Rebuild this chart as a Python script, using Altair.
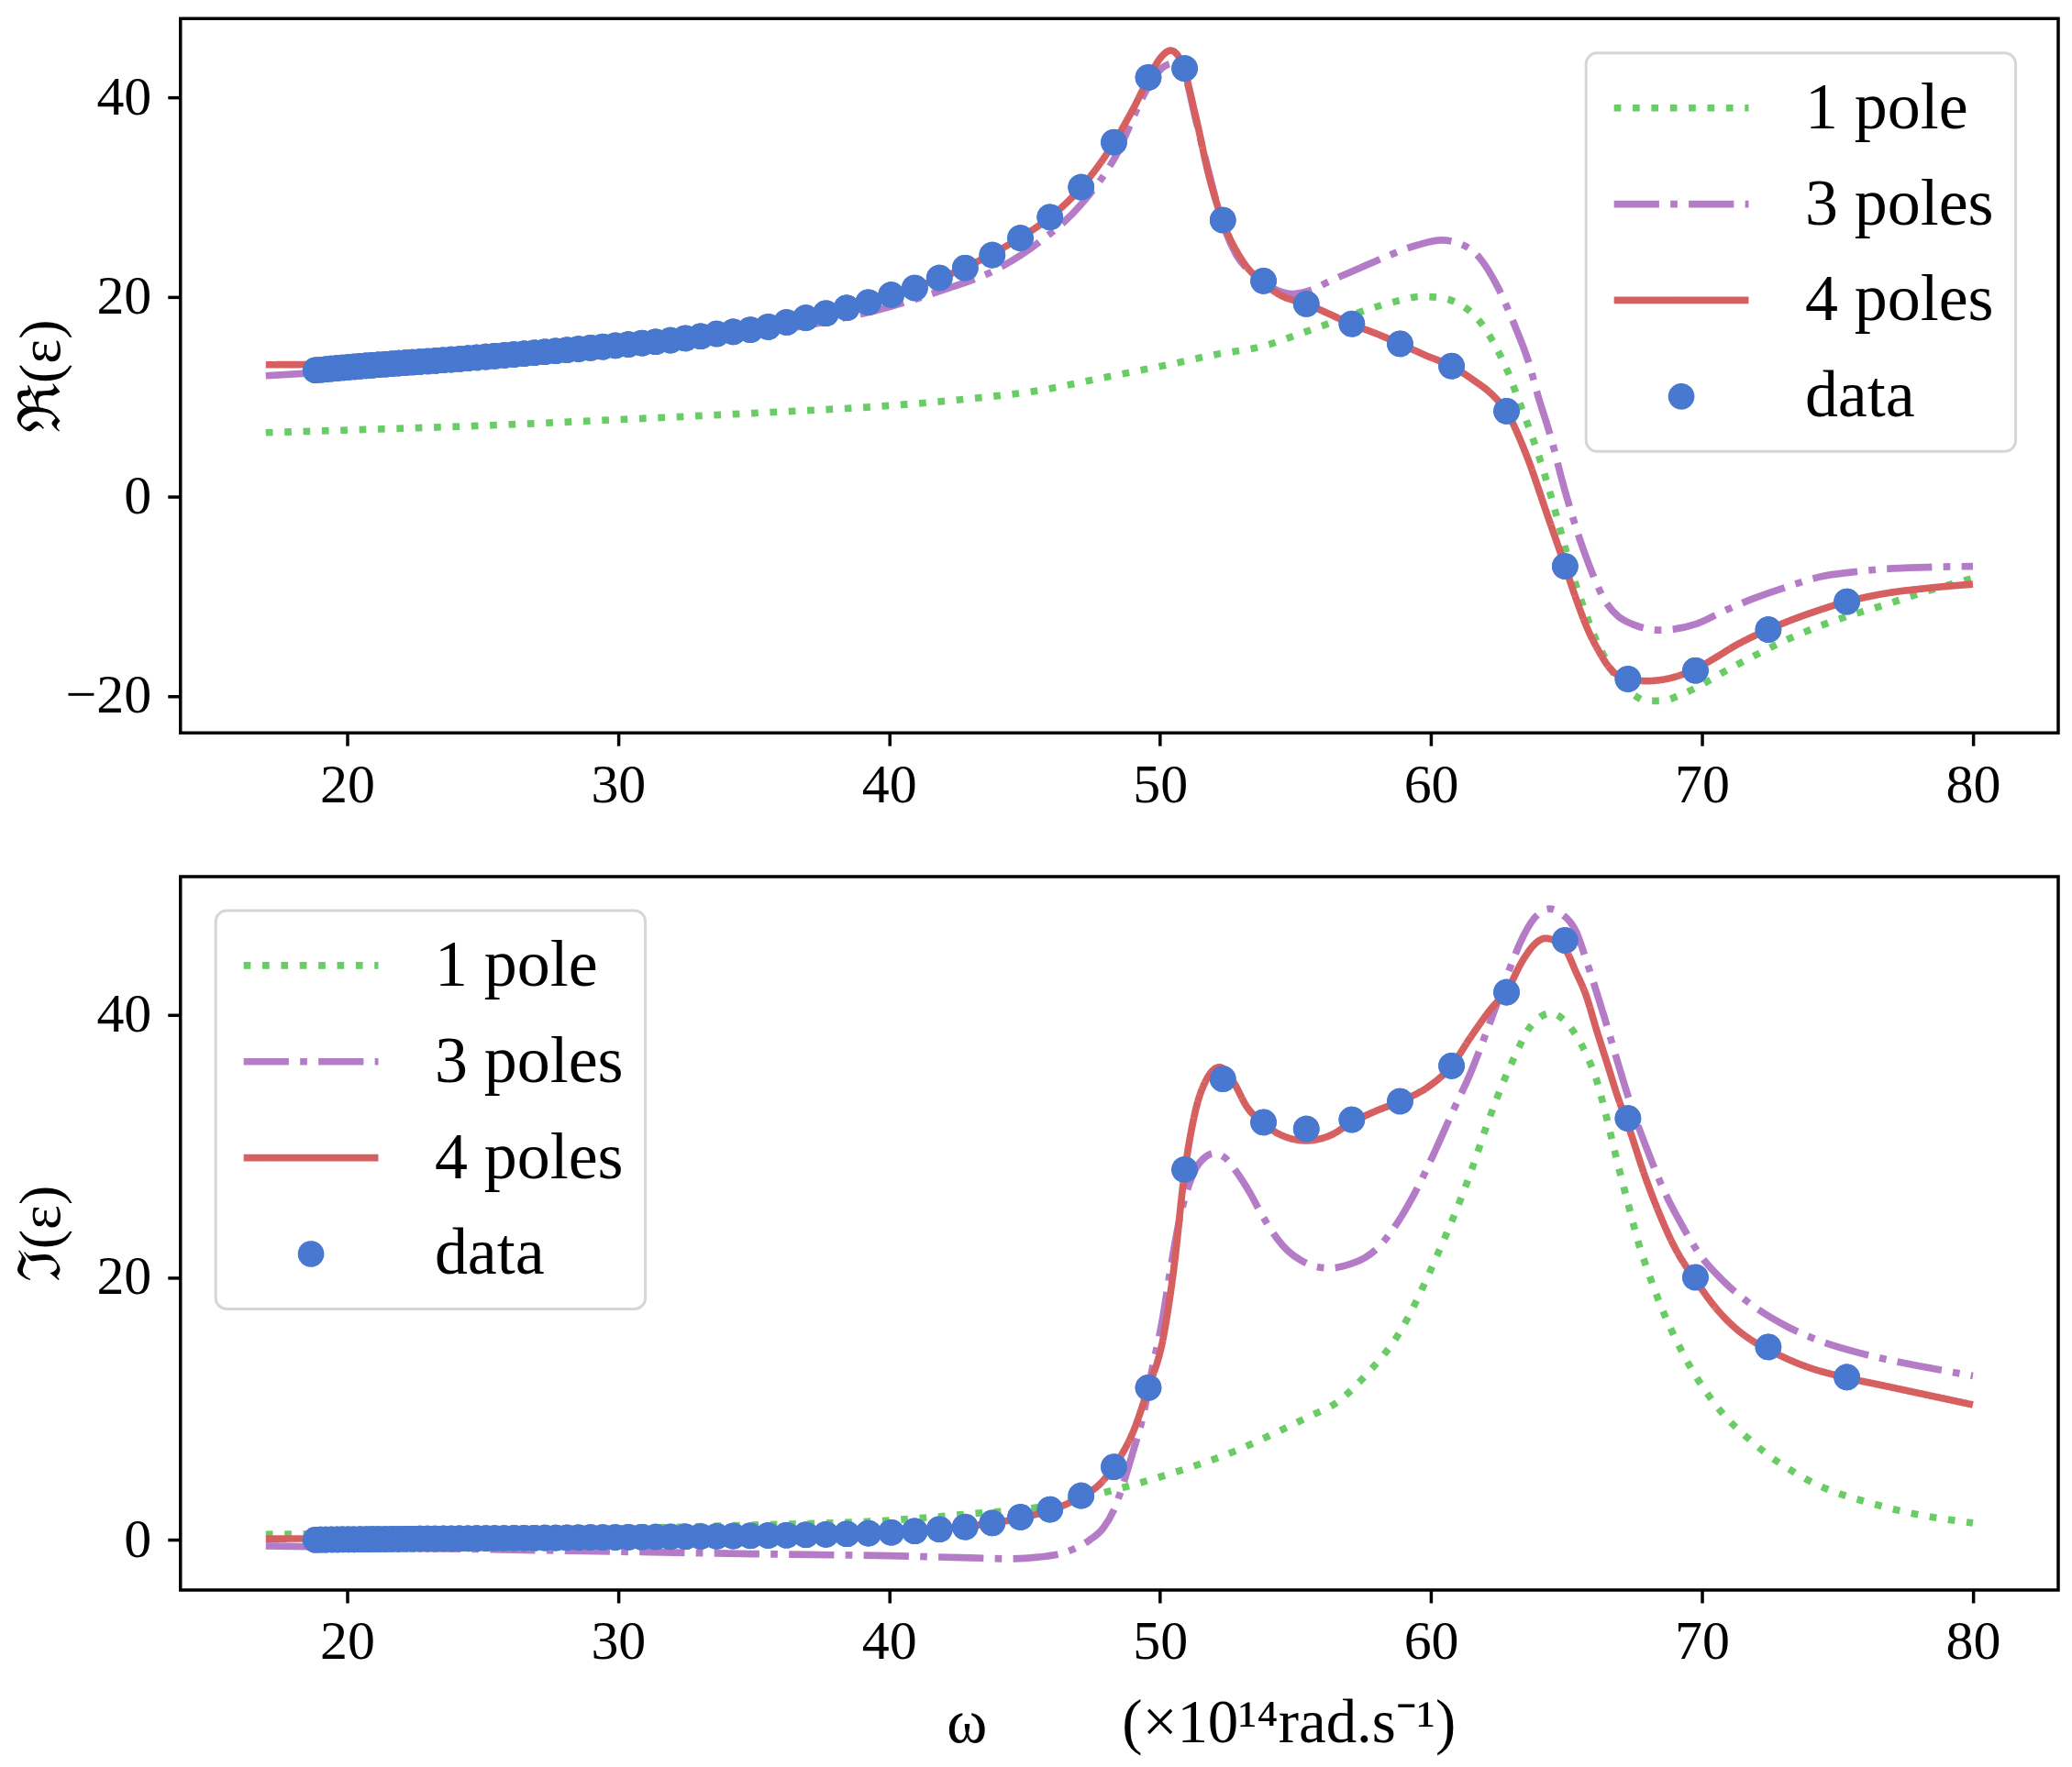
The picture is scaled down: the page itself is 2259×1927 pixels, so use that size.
import altair as alt
import pandas as pd

# ---------------- data ----------------
series_names = ["1 pole", "3 poles", "4 poles", "data"]
series_colors = ["#6ACC65", "#B47CC7", "#D65F5F", "#4878CF"]

omega_data = [18.84, 19.03, 19.22, 19.42, 19.62, 19.83, 20.04, 20.25, 20.47, 20.70, 20.93,
              21.16, 21.41, 21.65, 21.90, 22.16, 22.42, 22.69, 22.97, 23.25,
              23.55, 23.84, 24.15, 24.46, 24.78, 25.12, 25.45, 25.80, 26.16, 26.53,
              26.91, 27.30, 27.70, 28.11, 28.54, 28.98, 29.43, 29.90, 30.38, 30.88,
              31.39, 31.93, 32.48, 33.05, 33.64, 34.25, 34.88, 35.54, 36.22, 36.93,
              37.67, 38.44, 39.24, 40.08, 40.95, 41.86, 42.81, 43.81, 44.85, 45.94,
              47.09, 48.30, 49.57, 50.91, 52.32, 53.82, 55.40, 57.08, 58.86, 60.76,
              62.79, 64.95, 67.27, 69.76, 72.45, 75.35]
re_data = [12.65, 12.7, 12.75, 12.8, 12.85, 12.9, 12.95, 13.0, 13.05, 13.1, 13.15,
           13.2, 13.25, 13.3, 13.35, 13.4, 13.45, 13.5, 13.55, 13.6,
           13.66, 13.72, 13.78, 13.85, 13.92, 14.0, 14.07, 14.15, 14.23, 14.31,
           14.4, 14.49, 14.58, 14.68, 14.78, 14.89, 15.0, 15.12, 15.24, 15.37,
           15.5, 15.65, 15.85, 16.05, 16.3, 16.5, 16.7, 17.0, 17.45, 17.9,
           18.35, 18.9, 19.45, 20.2, 20.9, 21.9, 22.9, 24.2, 25.9, 28.0,
           31.0, 35.5, 42.0, 42.9, 27.7, 21.6, 19.3, 17.3, 15.3, 13.07,
           8.55, -7.0, -18.3, -17.45, -13.35, -10.55]
im_data = [0.02, 0.03, 0.03, 0.04, 0.04, 0.05, 0.05, 0.05, 0.06, 0.06, 0.07,
           0.07, 0.07, 0.08, 0.08, 0.09, 0.09, 0.1, 0.1, 0.1,
           0.11, 0.11, 0.12, 0.12, 0.13, 0.13, 0.14, 0.14, 0.15, 0.15,
           0.16, 0.17, 0.17, 0.18, 0.19, 0.2, 0.2, 0.21, 0.22, 0.23,
           0.24, 0.25, 0.26, 0.28, 0.29, 0.31, 0.33, 0.35, 0.37, 0.4,
           0.43, 0.47, 0.52, 0.58, 0.68, 0.82, 1.0, 1.3, 1.75, 2.33,
           3.38, 5.57, 11.6, 28.2, 35.1, 31.8, 31.3, 32.0, 33.4, 36.1,
           41.7, 45.65, 32.1, 20.0, 14.7, 12.4]

# real part, 1 pole
re1_x = [17, 20, 25, 30, 35, 40, 43, 45.5, 47.9, 50.3, 52.0, 53.93, 55.05, 56.4, 57.65,
         58.32, 59.0, 59.62, 60.3, 60.94, 61.5, 61.93, 62.27, 62.6, 62.9, 63.2, 63.6, 64.0,
         64.4, 64.84, 65.2, 65.62, 66.0, 66.39, 66.8, 67.17, 67.6, 67.95, 68.5, 69.2, 69.77,
         70.8, 71.84, 73.1, 74.44, 75.5, 76.6, 78.3, 80]
re1_y = [6.4, 6.65, 7.1, 7.7, 8.35, 9.1, 9.8, 10.6, 11.9, 13.2, 14.2, 15.15, 16.2, 17.5, 18.73,
         19.28, 19.74, 20.04, 19.95, 19.43, 18.42, 17.08, 15.6, 13.9, 12.1, 9.9, 7.0, 3.9,
         0.3, -4.0, -7.6, -11.0, -13.8, -16.0, -18.0, -19.2, -20.1, -20.5, -20.5, -19.9, -19.2,
         -17.6, -16.1, -14.4, -12.9, -11.9, -11.0, -9.5, -8.2]
# real part, 3 poles
re3_x = [17, 20, 23, 26, 29, 32, 35, 38, 40, 42, 44, 45.5, 47.1, 48.3, 49.6, 50.1, 50.5, 50.9,
         51.3, 51.8, 52.3, 52.8, 53.3, 53.8, 54.3, 54.9, 55.6, 56.2, 57.3, 58.4, 59.5, 60.4,
         61.1, 61.8, 62.5, 63.05, 63.6, 63.96, 64.45, 64.84, 65.2, 65.62, 66.0, 66.39, 66.9,
         67.43, 68.47, 69.77, 70.8, 71.84, 73.1, 74.44, 75.5, 76.6, 78.3, 80]
re3_y = [12.1, 12.6, 13.2, 13.8, 14.5, 15.3, 16.3, 17.7, 19.0, 20.7, 22.8, 25.4, 29.3, 33.8,
         41.2, 43.0, 43.4, 42.3, 38.0, 32.5, 27.5, 24.3, 22.6, 21.5, 20.7, 20.3, 20.7, 21.5,
         22.8, 24.1, 25.2, 25.7, 25.3, 23.9, 20.8, 17.4, 13.5, 10.0, 5.7, 1.6, -1.8, -5.3,
         -8.0, -10.3, -12.0, -12.8, -13.4, -12.8, -11.5, -10.3, -9.1, -8.0, -7.6, -7.3, -7.1, -7.0]
# real part, 4 poles
re4_x = [17, 19, 21, 23, 25, 27, 29, 31, 33, 35, 37, 39, 40, 41, 42, 43, 44, 45, 46, 47,
         48, 49, 49.6, 50.0, 50.4, 50.8, 51.3, 51.8, 52.3, 53.0, 53.8, 54.5, 55.4, 56.2, 57.08,
         58.0, 58.86, 59.8, 60.76, 61.6, 62.3, 62.79, 63.5, 64.3, 64.95, 65.36, 65.8, 66.13,
         66.9, 67.95, 68.99, 69.76, 70.54, 71.2, 71.84, 72.45, 73.1, 73.79, 75.35, 76.6,
         78.3, 80]
re4_y = [13.2, 13.25, 13.45, 13.75, 14.05, 14.5, 14.95, 15.5, 16.15, 16.95, 17.95, 19.3, 20.1,
         21.0, 22.0, 23.2, 24.6, 26.2, 28.1, 30.7, 34.2, 38.8, 42.0, 43.9, 44.7, 43.5, 38.3,
         32.2, 27.7, 23.8, 21.4, 20.1, 19.3, 18.35, 17.25, 16.3, 15.3, 14.15, 13.05, 11.6,
         10.1, 8.5, 4.3, -1.9, -7.0, -10.3, -13.4, -15.2, -17.9, -18.5, -18.1, -17.3, -16.1,
         -15.0, -14.1, -13.35, -12.6, -11.9, -10.55, -9.8, -9.2, -8.8]

# imaginary part, 1 pole
im1_x = [17, 20, 25, 30, 35, 40, 43, 45.5, 47.9, 50.3, 52.8, 54.5, 55.5, 56.54, 57.57, 58.87,
         60.17, 61.47, 62.1, 62.76, 63.2, 63.54, 63.9, 64.42, 64.9, 65.36, 65.75, 66.13, 66.5,
         66.9, 67.3, 67.69, 68.0, 68.47, 69.25, 70.54, 71.84, 73.79, 76.6, 80]
im1_y = [0.44, 0.5, 0.7, 0.88, 1.15, 1.5, 2.0, 2.5, 3.6, 5.0, 6.8, 8.4, 9.4, 10.5, 12.5, 15.9,
         21.4, 28.0, 31.8, 35.3, 37.3, 38.7, 39.6, 40.1, 39.6, 38.4, 36.9, 34.9, 32.0,
         28.6, 25.4, 22.4, 20.5, 17.9, 14.4, 10.2, 7.5, 4.7, 2.6, 1.3]
# imaginary part, 3 poles
im3_x = [17, 20, 25, 30, 35, 40, 43, 44.5, 45.5, 46.3, 46.9, 47.4, 47.9, 48.3, 48.6, 49.0,
         49.37, 49.7, 50.1, 50.4, 50.7, 51.0, 51.3, 51.7, 52.0, 52.4, 52.8, 53.3, 53.75, 54.2,
         54.73, 55.2, 55.7, 56.3, 57.0, 57.57, 58.2, 58.87, 59.5, 60.17, 60.8, 61.47, 62.0,
         62.5, 63.0, 63.3, 63.8, 64.38, 64.8, 65.36, 65.8, 66.4, 66.9, 67.43, 68.0, 68.6,
         69.2, 69.9, 70.8, 71.84, 73.1, 74.44, 75.9, 78.4, 80]
im3_y = [-0.44, -0.55, -0.7, -0.88, -1.05, -1.2, -1.35, -1.42, -1.3, -1.05, -0.6, 0.0, 0.9,
         2.3, 4.0, 6.7, 9.4, 12.9, 16.9, 20.8, 24.2, 26.6, 28.2, 29.2, 29.45, 29.1, 28.1,
         26.5, 24.8, 23.3, 22.0, 21.3, 20.85, 20.7, 21.0, 21.5, 22.6, 24.5, 26.8, 29.7, 32.6,
         35.6, 38.4, 41.2, 44.0, 45.5, 47.3, 48.05, 47.7, 46.3, 43.7, 39.8, 36.3, 32.8, 29.6,
         26.6, 24.2, 21.8, 19.7, 17.9, 16.3, 15.1, 14.2, 13.1, 12.5]
# imaginary part, 4 poles
im4_x = [17, 20, 25, 30, 35, 38, 40, 42, 44, 45, 46, 47, 47.8, 48.4, 49.0, 49.57, 50.1, 50.5,
         50.91, 51.3, 51.7, 52.2, 52.7, 53.2, 53.82, 54.5, 55.4, 56.28, 57.08, 57.9, 58.86,
         59.9, 60.76, 61.47, 62.2, 62.79, 63.41, 63.8, 64.22, 64.6, 64.95, 65.36, 65.7, 66.13,
         66.5, 66.9, 67.27, 67.95, 68.5, 68.99, 69.76, 70.54, 71.2, 71.84, 72.45, 73.79,
         75.35, 76.6, 78.3, 80]
im4_y = [0.1, 0.12, 0.18, 0.27, 0.4, 0.52, 0.65, 0.9, 1.35, 1.75, 2.3, 3.2, 4.3, 5.9, 8.2,
         11.6, 15.2, 20.5, 28.0, 32.6, 35.0, 36.0, 34.9, 33.0, 31.7, 30.8, 30.4, 30.8, 31.8,
         32.6, 33.4, 34.5, 36.1, 38.3, 40.4, 41.8, 44.2, 45.3, 45.8, 45.6, 45.0, 43.2, 41.6,
         38.7, 36.3, 33.7, 31.6, 27.4, 24.5, 22.3, 19.8, 17.6, 16.2, 15.2, 14.5, 13.25,
         12.35, 11.8, 11.05, 10.3]

x_ticks = [20, 30, 40, 50, 60, 70, 80]
re_ticks = [-20, 0, 20, 40]
im_ticks = [0, 20, 40]

# ---------------- styling ----------------
LINE_W = 7.7
dash_range = [[7.7, 12.7], [49.3, 12.3, 7.7, 12.3], [1, 0], [1, 0]]
shape_range = ["M-7,0H7", "M-7,0H7", "M-7,0H7", "circle"]
size_range = [441, 441, 441, 193]
FONT = "Liberation Serif"


def frame(xs, ys, name):
    return pd.DataFrame({"omega": xs, "val": ys, "series": name})


def scales():
    return dict(
        color=alt.Scale(domain=series_names, range=series_colors),
        dash=alt.Scale(domain=series_names, range=dash_range),
        shape=alt.Scale(domain=series_names, range=shape_range),
        size=alt.Scale(domain=series_names, range=size_range),
    )


def panel(curves, data_y, ytitle, ydomain, yticks, legx, legy, height, xtitle):
    sc = scales()
    if xtitle:
        xaxis = alt.Axis(values=x_ticks, title=xtitle, titleX=836, titleY=146,
                         titleAlign="left", titleBaseline="middle", titleFontSize=67)
    else:
        xaxis = alt.Axis(values=x_ticks, title=None)
    x = alt.X("omega:Q", scale=alt.Scale(domain=[13.85, 83.15], nice=False, zero=False),
              axis=xaxis)
    y = alt.Y("val:Q", scale=alt.Scale(domain=ydomain, nice=False, zero=False),
              axis=alt.Axis(values=yticks, title=ytitle, titleX=-151.5,
                            titleBaseline="middle", titleFontSize=64))
    pts_df = frame(omega_data, data_y, "data")

    def points(legend):
        return alt.Chart(pts_df).mark_point(
            filled=True, opacity=1, strokeWidth=LINE_W).encode(
            x=x, y=y,
            fill=alt.Fill("series:N", scale=sc["color"], legend=legend),
            stroke=alt.Stroke("series:N", scale=sc["color"], legend=legend),
            shape=alt.Shape("series:N", scale=sc["shape"], legend=legend),
            size=alt.Size("series:N", scale=sc["size"], legend=legend),
            strokeDash=alt.StrokeDash("series:N", scale=sc["dash"], legend=legend),
        )

    leg = alt.Legend(orient="none", legendX=legx, legendY=legy, title=None)
    # first layer carries the legend; the same points are drawn again on top
    layers = [points(leg)]
    for df in curves:
        layers.append(
            alt.Chart(df).mark_line(strokeWidth=LINE_W, interpolate="monotone",
                                    strokeCap="butt").encode(
                x=x, y=y,
                stroke=alt.Stroke("series:N", scale=sc["color"], legend=None),
                strokeDash=alt.StrokeDash("series:N", scale=sc["dash"], legend=None),
            )
        )
    layers.append(points(None))
    return alt.layer(*layers).properties(width=2050, height=height)


top = panel([frame(re1_x, re1_y, "1 pole"), frame(re3_x, re3_y, "3 poles"),
             frame(re4_x, re4_y, "4 poles")],
            re_data, "ℜ(ε)", [-23.7, 47.9], re_ticks, 1534.5, 37.6, 780, None)
bottom = panel([frame(im1_x, im1_y, "1 pole"), frame(im3_x, im3_y, "3 poles"),
                frame(im4_x, im4_y, "4 poles")],
               im_data, "ℑ(ε)", [-3.8, 50.5], im_ticks, 38.5, 37, 779,
               "ω\u2003\u2003\u2009(×10¹⁴rad.s⁻¹)")

chart = alt.vconcat(top, bottom, spacing=157, bounds="flush").resolve_scale(
    x="independent", y="independent", fill="independent", stroke="independent",
    shape="independent", size="independent", strokeDash="independent"
).resolve_legend(
    fill="independent", stroke="independent", shape="independent",
    size="independent", strokeDash="independent"
).properties(
    padding={"left": 3, "top": 9, "right": 5, "bottom": 2}
).configure(
    background="white",
).configure_view(
    stroke="black", strokeWidth=3.5
).configure_axis(
    domain=False, grid=False, ticks=True, tickSize=14, tickWidth=3.5, tickColor="black",
    labelFont=FONT, labelFontSize=60, labelColor="black", labelPadding=14,
    titleFont=FONT, titleFontWeight="normal", titleColor="black",
).configure_axisY(
    labelPadding=18
).configure_legend(
    labelFont=FONT, labelFontSize=72, labelColor="black",
    padding=24, rowPadding=33, symbolOffset=44, labelOffset=99,
    symbolStrokeWidth=LINE_W, strokeColor="#d6d6d6", strokeWidth=3,
    fillColor="rgba(255,255,255,0.8)", cornerRadius=12, labelLimit=600,
)

chart.save("out.html", embed_options={"renderer": "svg", "actions": False})
